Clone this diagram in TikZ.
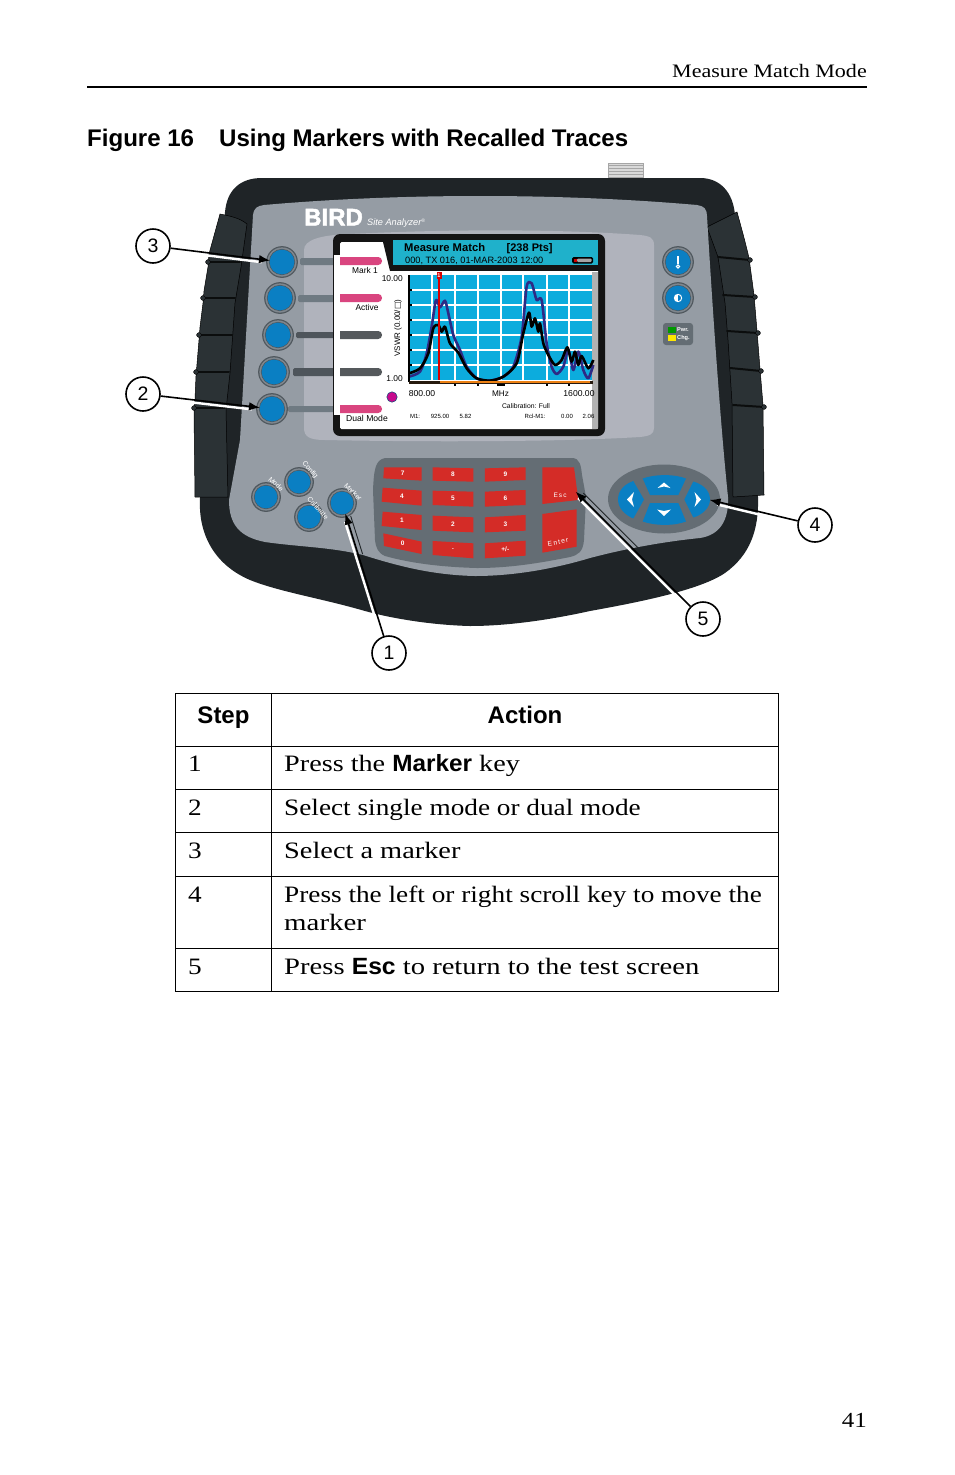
\documentclass[tikz,border=0pt]{standalone}
\usepackage{fontspec}
\setmainfont{Liberation Sans}
\newfontfamily\bodyf[FakeStretch=1.16]{Liberation Serif}
\newfontfamily\sansf{Liberation Sans}
\newfontfamily\symf{DejaVu Sans}
\newfontfamily\logof[BoldFeatures={FakeBold=2}]{Liberation Sans}
\usetikzlibrary{arrows.meta,calc}
\definecolor{bodyblack}{HTML}{1F2427}
\definecolor{gripdark}{HTML}{2B3235}
\definecolor{facegray}{HTML}{959CA4}
\definecolor{panelgray}{HTML}{B0B3BC}
\definecolor{padgray}{HTML}{646D74}
\definecolor{keyred}{HTML}{D42C27}
\definecolor{btnblue}{HTML}{0A7FC3}
\definecolor{ringgray}{HTML}{7F878E}
\definecolor{ringdark}{HTML}{50585E}
\definecolor{teal}{HTML}{1FB1CB}
\definecolor{plotblue}{HTML}{0CACDD}
\definecolor{pinkbar}{HTML}{D9457F}
\definecolor{graybar}{HTML}{55595C}
\definecolor{stem}{HTML}{6F7A82}
\definecolor{traceblue}{HTML}{2E2A85}
\newcommand{\fs}[1]{\fontsize{#1}{#1}\selectfont}
\newcommand{\roundbtn}[4]{% name, x, y, r
  \fill[ringdark] (#2,#3) circle ({#4+0.9});
  \fill[ringgray] (#2,#3) circle ({#4-0.4});
  \fill[ringdark] (#2,#3) circle ({#4-1.9});
  \node[circle,inner sep=0pt,minimum size={2*(#4-2.6)},fill=btnblue] (#1) at (#2,#3) {};}
\newcommand{\stembar}[4]{\fill[#4,rounded corners=1.5] (#1,#2) rectangle (336,#3);}
\newcommand{\softbar}[3]{\fill[#3,rounded corners=3.8] (334,#1) rectangle (382,#2);}
\newcommand{\redkey}[5]{%
  \begin{scope}[shift={(230,440)},x=0.3333pt,y=-0.3333pt]
  \fill[keyred] #1 -- #2 -- #3 -- #4 -- cycle;
  \node[keylabel] at ($1/4*#1+1/4*#2+1/4*#3+1/4*#4$) {#5};
  \end{scope}}
\newcommand{\whitepar}[5]{%
  \coordinate (wa) at ($(#1.center)!#3!(#2.center)$);
  \coordinate (wb) at ($(#2.center)!#4!(#1.center)$);
  \draw[calloutw] ($(wa)!#5!-90:(wb)$) -- ($(wb)!#5!90:(wa)$);}
\newcommand{\edgepar}[5]{%
  \coordinate (wa) at ($(#2.center)!#3!(#1.center)$);
  \coordinate (wb) at ($(#2.center)!#4!(#1.center)$);
  \draw[bodyblack,line width=0.9pt] ($(wa)!#5!-90:(wb)$) -- ($(wb)!#5!90:(wa)$);}
\tikzset{
  lbl/.style={inner sep=0pt,text=black},
  keylabel/.style={inner sep=0pt,text=white,font=\sansf\bfseries\fs{6.5}},
  capt/.style={circle,draw=black,line width=1.6pt,fill=white,minimum size=34pt,inner sep=0pt,font=\sansf\fs{19.5}},
  callout/.style={draw=black,line width=1.6pt,-{Latex[length=11pt,width=8.5pt]},shorten >=-0.5pt},
  calloutw/.style={draw=white,line width=2.4pt},
  body/.style={inner sep=0pt,anchor=base west,font=\bodyf\fs{23.5}},
  tline/.style={draw=black,line width=1pt},
  tracef/.style={line width=2.6pt,line join=round,smooth,tension=0.45},
  seam/.style={draw=black!75!gripdark,line width=2pt,line cap=round},
}
\begin{document}
\begin{tikzpicture}[x=1pt,y=-1pt]
\useasboundingbox (0,0) rectangle (954,1475);
\fill[white] (0,0) rectangle (954,1475);

% running head
\node[inner sep=0pt,anchor=base east,font=\bodyf\fs{19}] (head) at (867,77) {Measure Match Mode};
\draw[black,line width=2pt] (87,87) -- (867,87);
\node[inner sep=0pt,anchor=base west,font=\sansf\bfseries\fs{24.05}] (figno) at (87,146.5) {Figure 16};
\node[inner sep=0pt,anchor=base west,font=\sansf\bfseries\fs{24.05}] (figtitle) at (219,146.5) {Using Markers with Recalled Traces};
\node[inner sep=0pt,anchor=base east,font=\bodyf\fs{21.5}] (pageno) at (867,1427) {41};

% connector on top
\fill[gray!30] (608,163) rectangle (643,179);
\foreach \yy in {165,168,...,177}{\draw[gray!70,line width=0.6pt] (608,\yy) -- (643,\yy);}
\draw[gray!70,line width=0.6pt] (608,163) rectangle (643,179);

% dark body
\fill[bodyblack] (225,212) .. controls (227,190) and (240,178) .. (262,178)
  -- (700,178) .. controls (720,178) and (733,192) .. (735,215)
  -- (758,497) .. controls (759,530) and (750,555) .. (725,573)
  .. controls (700,590) and (640,602) .. (590,611)
  .. controls (540,622) and (500,626) .. (470,626)
  .. controls (430,625) and (390,618) .. (365,611)
  .. controls (320,598) and (280,592) .. (250,580)
  .. controls (215,565) and (198,535) .. (200,498) -- cycle;

% grips
\fill[gripdark,draw=black,line width=0.5pt] (220,214) .. controls (230,216) and (240,218) .. (247,224)
  -- (241,267) -- (235,303) -- (230,373) -- (226,410) -- (228,497) -- (195,497) -- (194,412) -- (195,399)
  -- (196,376) -- (197,364) -- (199,340) -- (200,327) -- (203,303) -- (204,291)
  -- (208,267) -- (209,254) -- cycle;
\foreach \ya/\xa/\xb in {262/208/240,298/203/235,335/199/232,372/196/229,408/194/225}{
  \draw[seam] (\xa,\ya) -- (\xb,\ya);
  \fill[gripdark,draw=black,line width=0.4pt] (\xa,\ya) circle (2.4);}
\fill[gripdark,draw=black,line width=0.5pt] (707,227) -- (737,212) .. controls (742,230) and (746,245) .. (749,258)
  -- (754,295) -- (757,331) -- (760,369) -- (763,405) -- (764,495) -- (733,497) -- (732,403) -- (728,340) -- (725,303) -- (718,257) -- cycle;
\foreach \ya/\xa/\xb/\yb in {257/718/750/260,295/723/755/297,331/727/758/333,368/730/761/371,405/733/764/407}{
  \draw[seam] (\xa,\ya) -- (\xb,\yb);
  \fill[gripdark,draw=black,line width=0.4pt] (\xb,\yb) circle (2.4);}

% gray face
\fill[facegray] (253,215) .. controls (254,208) and (257,206) .. (264,205)
  .. controls (400,193) and (560,193) .. (697,205)
  .. controls (704,206) and (707,209) .. (707,216)
  .. controls (712,300) and (720,420) .. (728,497)
  .. controls (729,520) and (720,535) .. (700,538)
  .. controls (660,542) and (620,550) .. (590,558)
  .. controls (550,570) and (510,576) .. (475,576)
  .. controls (430,575) and (395,565) .. (363,555)
  .. controls (330,547) and (300,547) .. (265,542)
  .. controls (240,537) and (229,525) .. (229,500)
  -- (240,440) -- cycle;

% screen panel
\fill[panelgray] (304,250) .. controls (304,240) and (320,235) .. (350,234)
  .. controls (450,229) and (560,229) .. (640,235)
  .. controls (650,236) and (654,238) .. (654,245)
  -- (654,428) .. controls (654,434) and (650,436) .. (640,437)
  .. controls (560,442) and (420,442) .. (325,440)
  .. controls (310,440) and (304,437) .. (304,428) -- cycle;

% stems
\stembar{300}{258}{265}{stem}
\stembar{298}{295}{302}{stem}
\stembar{296}{332}{338}{stem!70!black}
\stembar{293}{368}{376}{stem!70!black}
\stembar{288}{406}{412}{stem}

% soft keys
\roundbtn{b1}{282}{262}{15}
\roundbtn{b2}{280}{298}{15}
\roundbtn{b3}{278}{335}{15}
\roundbtn{b4}{274}{372}{15}
\roundbtn{b5}{272}{409}{15}

% screen
\fill[black!92,rounded corners=7] (333,234) rectangle (605,436);
\fill[white,rounded corners=1.5] (340,242) rectangle (598,429);
\fill[black!92] (390,238) rectangle (600,271);
\fill[black!92] (383,242) -- (390,242) -- (390,271) -- cycle;
\fill[teal] (393,240) rectangle (598,265);
\fill[gray!60] (592,272) rectangle (598,429);

% soft key bars
\softbar{257}{265}{pinkbar}
\softbar{294}{302}{pinkbar}
\softbar{331}{339}{graybar}
\softbar{368}{376}{graybar}
\softbar{405}{413}{pinkbar}
\fill[white] (334,255) rectangle (340,415);
\node[lbl,font=\sansf\fs{8.4}] (mark) at (365,270) {Mark 1};
\node[lbl,font=\sansf\fs{8.4}] (active) at (367,307.5) {Active};
\node[lbl,font=\sansf\fs{8.6}] (dual) at (367,418) {Dual Mode};

% header text
\node[lbl,anchor=base west,font=\sansf\bfseries\fs{11.2}] (hm) at (404,251.5) {Measure Match};
\node[lbl,anchor=base west,font=\sansf\bfseries\fs{11}] (hp) at (506.5,251.5) {[238 Pts]};
\node[lbl,anchor=base west,font=\sansf\fs{9.2}] (hd) at (405,263.5) {000, TX 016, 01-MAR-2003 12:00};
\fill[black,rounded corners=1.5] (572,257) rectangle (593,263.5);
\fill[gray!70,rounded corners=1] (577,258.5) rectangle (591.5,262);
\fill[red!80!black] (574,259) rectangle (577,261.5);

% plot
\fill[plotblue] (409,275) rectangle (592,380);
\foreach \xx in {432,455,478,501,523,547,569}{\draw[white,line width=2.2pt] (\xx,275) -- (\xx,380);}
\foreach \yy in {290,305,320,335,350,365}{\draw[white,line width=2.2pt] (409,\yy) -- (592,\yy);}
\begin{scope}[shift={(330,230)},x=0.3333pt,y=-0.3333pt]
\draw[traceblue,tracef] plot coordinates {(237,440)(270,425)(290,370)(305,290)(318,210)(330,232)(345,212)(355,250)(370,315)(390,360)(410,410)(440,445)(480,452)(520,440)(550,410)(575,320)(590,170)(605,160)(620,210)(635,210)(650,340)(665,410)(680,432)(700,410)(715,360)(730,420)(745,365)(760,420)(775,445)(790,405)};
\draw[black,tracef] plot coordinates {(237,430)(270,415)(295,370)(310,295)(325,285)(335,305)(345,290)(360,340)(385,368)(410,415)(440,445)(480,452)(520,440)(560,400)(580,310)(597,248)(605,290)(615,265)(625,305)(630,280)(640,340)(655,375)(675,405)(695,390)(712,352)(725,395)(735,365)(745,405)(755,378)(775,415)(790,390)};
\end{scope}
\draw[red!85!black,line width=1.5pt] (439,273) -- (439,380);
\node[fill=red!85!black,text=white,inner sep=0pt,minimum width=5pt,minimum height=7pt,font=\sansf\bfseries\fs{5.5}] (mk) at (439,275.5) {1};
\draw[black,line width=1.6pt] (409,275) -- (409,382);
\foreach \yy in {290,305,320,335,350,365}{\draw[black,line width=1.6pt] (409,\yy) -- (412,\yy);}
\draw[black!80!brown,line width=3pt] (409,382) -- (593,382);
\draw[orange!70!brown,line width=1.2pt] (440,382) -- (590,382);
\foreach \xx in {455,478,547,569}{\draw[black,line width=1.4pt] (\xx,384) -- (\xx,386);}
\draw[black,line width=2.5pt] (497,385) -- (505,385);
\node[lbl,anchor=east,font=\sansf\fs{8.4}] (y10) at (403,278.5) {10.00};
\node[lbl,anchor=east,font=\sansf\fs{8.4}] (y1) at (403,378.5) {1.00};
\node[lbl,rotate=90,font=\sansf\fs{8}] (yl) at (398,328) {VSWR (0.00/{\symf □})};
\node[lbl,font=\sansf\fs{8.6}] (x0) at (422,394) {800.00};
\node[lbl,font=\sansf\fs{8.2}] (xm) at (500.5,394) {MHz};
\node[lbl,font=\sansf\fs{8.6}] (x1) at (579,394) {1600.00};
\node[lbl,font=\sansf\fs{6.8}] (cal) at (526,406) {Calibration: Full};
\node[lbl,font=\sansf\fs{6}] (m1) at (415,416.5) {M1:};
\node[lbl,font=\sansf\fs{6}] (m2) at (440,416.5) {925.00};
\node[lbl,font=\sansf\fs{6}] (m3) at (465.5,416.5) {5.82};
\node[lbl,font=\sansf\fs{6}] (m4) at (535,416.5) {Rcl-M1:};
\node[lbl,font=\sansf\fs{6}] (m5) at (567,416.5) {0.00};
\node[lbl,font=\sansf\fs{6}] (m6) at (588.5,416.5) {2.06};
\fill[magenta!80!blue,draw=btnblue!60!black,line width=0.5pt] (392,397) circle (5.2);

% logo
\node[inner sep=0pt,text=white,anchor=base west,font=\logof\bfseries\fs{24}] (logo) at (304,225.5) {BIRD};
\node[inner sep=0pt,text=white,anchor=base west,font=\sansf\itshape\fs{9.2}] (site) at (367,225) {Site Analyzer\raisebox{3pt}{\fs{5}®}};

% right buttons
\roundbtn{p1}{678}{262}{15}
\roundbtn{p2}{678}{298}{15}
\fill[white] (677,256) rectangle (679,263.5);
\draw[white,line width=1pt] (678,266.5) circle (1.6);
\fill[white] (678,298) circle (4.2);
\fill[btnblue] (678,295.3) .. controls (681.6,295.3) and (681.6,300.7) .. (678,300.7) -- cycle;
\fill[padgray,rounded corners=3] (663,323) rectangle (693,345);
\fill[green!60!black] (668,327) rectangle (676,333);
\fill[yellow!90!orange] (668,335) rectangle (676,340.5);
\node[lbl,text=white,anchor=west,font=\sansf\bfseries\fs{5.6}] (pwr) at (677,330) {Pwr.};
\node[lbl,text=white,anchor=west,font=\sansf\bfseries\fs{5.6}] (chg) at (677,338) {Chg.};

% lower-left buttons
\roundbtn{mode}{266}{497}{14}
\roundbtn{conf}{299}{482}{14}
\roundbtn{calb}{309}{517}{14}
\roundbtn{mrk}{342}{503}{14}
\node[lbl,text=white,rotate=-42,font=\sansf\fs{7}] (tm) at (276,484) {Mode};
\node[lbl,text=white,rotate=-50,font=\sansf\fs{7}] (tc) at (310,470) {Config};
\node[lbl,text=white,rotate=-48,font=\sansf\fs{7}] (tb) at (318,508) {Calibrate};
\node[lbl,text=white,rotate=-45,font=\sansf\fs{7}] (tk) at (353,492) {Marker};

% keypad
\fill[padgray] (373,490) .. controls (374,470) and (375,460) .. (385,458)
  -- (572,458) .. controls (580,458) and (581,466) .. (582,475)
  -- (586,497) -- (584,540) .. controls (583,552) and (578,555) .. (570,557)
  .. controls (540,563) and (510,568) .. (477,568)
  .. controls (440,567) and (410,563) .. (385,556)
  .. controls (378,553) and (376,548) .. (375,540) -- cycle;
\redkey{(462,82)}{(575,82)}{(575,122)}{(460,115)}{7}
\redkey{(608,82)}{(730,85)}{(730,125)}{(608,122)}{8}
\redkey{(765,85)}{(887,82)}{(887,120)}{(765,125)}{9}
\redkey{(458,143)}{(575,152)}{(575,197)}{(455,185)}{4}
\redkey{(608,152)}{(730,155)}{(730,200)}{(608,195)}{5}
\redkey{(765,155)}{(887,150)}{(887,195)}{(765,200)}{6}
\redkey{(458,215)}{(575,225)}{(575,270)}{(455,258)}{1}
\redkey{(608,227)}{(730,232)}{(730,277)}{(608,272)}{2}
\redkey{(765,232)}{(887,225)}{(887,272)}{(765,277)}{3}
\redkey{(460,280)}{(575,305)}{(575,342)}{(462,318)}{0}
\redkey{(608,303)}{(730,310)}{(730,355)}{(608,345)}{.}
\redkey{(765,310)}{(887,302)}{(887,347)}{(765,355)}{+/-}
\fill[keyred] (542.3,467.3) -- (574,467.3) -- (578.3,500) -- (542.3,504) -- cycle;
\fill[keyred] (542.3,514) -- (576.7,509.3) -- (576.7,546.7) -- (542.3,552.7) -- cycle;
\node[lbl,text=white,font=\sansf\fs{6.5}] (esc) at (560,495) {E\,s\,c};
\node[lbl,text=white,rotate=10,font=\sansf\fs{6.8}] (enter) at (558,542) {E\,n\,t\,e\,r};

% scroll pad
\fill[padgray] (664,499) ellipse (56 and 34.5);
\fill[btnblue] (633.3,481) -- (644,499.5) -- (633.3,518.5) .. controls (625,515) and (618,508) .. (618,499.5) .. controls (618,490) and (625,484) .. (633.3,481) -- cycle;
\fill[btnblue] (642.7,478.5) .. controls (655,474) and (675,474) .. (686,478.5) -- (678.3,495) -- (650,495) -- cycle;
\fill[btnblue] (650,503) -- (678.3,503) -- (686,521.5) .. controls (675,526) and (655,526) .. (642.7,521.5) -- cycle;
\fill[btnblue] (693.3,481.5) .. controls (702,484) and (710,490) .. (710,499.5) .. controls (710,508) and (702,515) .. (693.3,517.5) -- (684.3,499.5) -- cycle;
\fill[white] (627,499.5) -- (634,492) -- (632,499.5) -- (634,507) -- cycle;
\fill[white] (701,499.5) -- (694.5,492) -- (696.5,499.5) -- (694.5,507) -- cycle;
\fill[white] (657.5,488) -- (664,482.5) -- (670.5,488) -- (664,486.5) -- cycle;
\fill[white] (657,509.5) -- (664,511) -- (671,509.5) -- (664,516) -- cycle;

% callouts
\coordinate (escpt) at (576,492);
\coordinate (rightpt) at (710,500);
\node[capt] (c3) at (153,246) {3};
\node[capt] (c2) at (143,394) {2};
\node[capt] (c1) at (389,653) {1};
\node[capt] (c5) at (703,619) {5};
\node[capt] (c4) at (815,525) {4};
\whitepar{c3}{b1}{19pt}{20pt}{2.7pt}
\whitepar{c2}{b5}{19pt}{20pt}{2.7pt}
\whitepar{c1}{mrk}{19pt}{19pt}{-2.7pt}
\whitepar{c5}{escpt}{19pt}{6pt}{-2.7pt}
\whitepar{c4}{rightpt}{19pt}{8pt}{-2.7pt}
\edgepar{c1}{mrk}{15pt}{55pt}{-4.4pt}
\edgepar{c5}{escpt}{6pt}{86pt}{-4.4pt}
\draw[callout] (c3) -- (b1);
\draw[callout] (c2) -- (b5);
\draw[callout] (c1) -- (mrk);
\draw[callout] (c5) -- (escpt);
\draw[callout] (c4) -- (rightpt);

% table
\draw[tline] (175.5,693.5) rectangle (778.5,991.5);
\draw[tline] (271.5,693.5) -- (271.5,991.5);
\foreach \yy in {746.5,789.5,832.5,876.5,948.5}{\draw[tline] (175.5,\yy) -- (778.5,\yy);}
\node[inner sep=0pt,anchor=base,font=\sansf\bfseries\fs{24}] (thstep) at (223.5,723.5) {Step};
\node[inner sep=0pt,anchor=base,font=\sansf\bfseries\fs{24}] (thact) at (525,723.5) {Action};
\node[body] (s1) at (188,771.5) {1};
\node[body] (s2) at (188,815.5) {2};
\node[body] (s3) at (188,858.5) {3};
\node[body] (s4) at (188,902) {4};
\node[body] (s5) at (188,974.5) {5};
\node[body,xscale=1.035,transform shape] (a1) at (284,771.5) {Press the {\sansf\bfseries Marker} key};
\node[body] (a2) at (284,815.5) {Select single mode or dual mode};
\node[body,xscale=1.04,transform shape] (a3) at (284,858.5) {Select a marker};
\node[body] (a4a) at (284,902) {Press the left or right scroll key to move the};
\node[body,xscale=1.06,transform shape] (a4b) at (284,930) {marker};
\node[body,xscale=1.05,transform shape] (a5) at (284,974.5) {Press {\sansf\bfseries Esc} to return to the test screen};
\end{tikzpicture}
\end{document}
